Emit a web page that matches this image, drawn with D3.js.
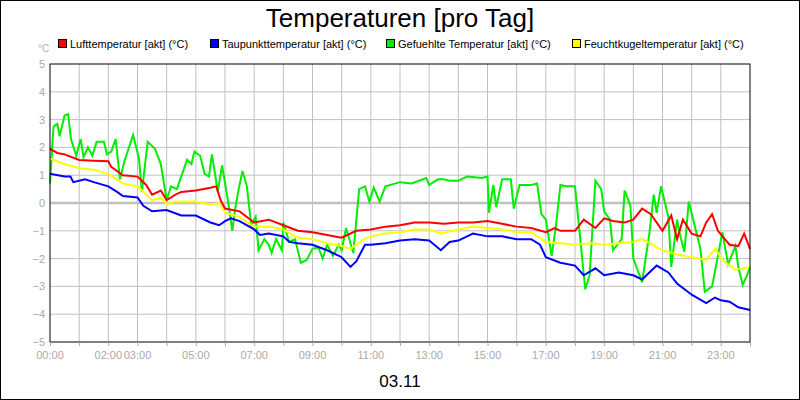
<!DOCTYPE html><html><head><meta charset="utf-8"><script src="https://cdn.jsdelivr.net/npm/d3@7"></script>
<style>body{margin:0;background:#fff}svg{display:block;font-family:"Liberation Sans",Arial,sans-serif}</style></head><body><svg id="c" width="800" height="400"></svg><script>
const seriesNames=["Lufttemperatur [akt] (°C)","Taupunkttemperatur [akt] (°C)","Gefuehlte Temperatur [akt] (°C)","Feuchtkugeltemperatur [akt] (°C)"];
const seriesColors=["#ff0000","#0000ff","#00ee00","#ffff00"];
const xTickLabels=[[0,"00:00"],[2,"02:00"],[3,"03:00"],[5,"05:00"],[7,"07:00"],[9,"09:00"],[11,"11:00"],[13,"13:00"],[15,"15:00"],[17,"17:00"],[19,"19:00"],[21,"21:00"],[23,"23:00"]];
const yTicks=[-5,-4,-3,-2,-1,0,1,2,3,4,5];
const luft=[[0,1.95],[0.25,1.8],[0.5,1.75],[1,1.55],[1.5,1.52],[2,1.5],[2.1,1.3],[2.5,1.0],[3,0.95],[3.3,0.65],[3.5,0.3],[3.8,0.45],[4,0.1],[4.3,0.3],[4.5,0.4],[5,0.45],[5.5,0.55],[5.7,0.6],[5.85,0.1],[6,-0.2],[6.5,-0.3],[7,-0.7],[7.5,-0.6],[8,-0.8],[8.5,-1.0],[9,-1.05],[9.5,-1.15],[10,-1.25],[10.5,-1.0],[11,-0.95],[11.5,-0.85],[12,-0.8],[12.5,-0.7],[13,-0.7],[13.5,-0.75],[14,-0.7],[14.5,-0.7],[15,-0.65],[15.5,-0.75],[16,-0.85],[16.5,-0.9],[17,-1.05],[17.3,-0.9],[17.5,-1.0],[18,-1.0],[18.3,-0.6],[18.7,-0.9],[19,-0.55],[19.3,-0.65],[19.7,-0.7],[20,-0.6],[20.3,-0.2],[20.6,-0.4],[21,-1.0],[21.3,-0.45],[21.5,-1.3],[21.7,-0.6],[22,-1.1],[22.3,-1.2],[22.5,-0.7],[22.7,-0.4],[22.9,-1.0],[23.3,-1.5],[23.6,-1.55],[23.8,-1.1],[24,-1.65]];
const tau=[[0,1.05],[0.5,0.95],[0.7,0.95],[0.8,0.75],[1.2,0.85],[1.5,0.75],[2,0.6],[2.3,0.4],[2.5,0.25],[3,0.2],[3.2,-0.1],[3.5,-0.3],[4,-0.25],[4.5,-0.45],[5,-0.45],[5.5,-0.7],[5.8,-0.8],[6,-0.65],[6.2,-0.55],[6.5,-0.65],[7,-0.95],[7.2,-1.15],[7.5,-1.1],[8,-1.2],[8.2,-1.4],[8.5,-1.45],[9,-1.5],[9.5,-1.7],[10,-1.95],[10.3,-2.3],[10.5,-2.1],[10.8,-1.5],[11,-1.5],[11.5,-1.45],[12,-1.35],[12.5,-1.3],[13,-1.35],[13.4,-1.7],[13.7,-1.4],[14,-1.35],[14.5,-1.1],[15,-1.2],[15.5,-1.2],[16,-1.3],[16.5,-1.3],[16.8,-1.5],[17,-1.95],[17.5,-2.15],[18,-2.25],[18.3,-2.6],[18.7,-2.35],[19,-2.6],[19.5,-2.5],[20,-2.6],[20.3,-2.75],[20.8,-2.25],[21.2,-2.5],[21.5,-2.9],[22,-3.3],[22.5,-3.6],[22.8,-3.4],[23,-3.5],[23.3,-3.55],[23.6,-3.75],[24,-3.85]];
const gefuehlt=[[0,0.7],[0.12,2.75],[0.25,2.85],[0.33,2.4],[0.5,3.15],[0.62,3.2],[0.72,2.3],[0.9,1.7],[1.05,2.3],[1.15,1.65],[1.3,2.0],[1.45,1.7],[1.6,2.2],[1.85,2.2],[1.95,1.75],[2.1,1.85],[2.25,2.3],[2.4,0.85],[2.55,1.5],[2.85,2.45],[3.05,1.6],[3.15,0.4],[3.35,2.2],[3.6,1.95],[3.8,1.4],[4.0,0.1],[4.15,0.6],[4.35,0.5],[4.7,1.55],[4.85,1.4],[4.95,1.85],[5.15,1.7],[5.3,1.05],[5.45,0.95],[5.55,1.75],[5.65,1.1],[5.75,0.4],[5.9,1.35],[6.1,0.1],[6.25,-1.0],[6.35,-0.2],[6.45,0.4],[6.6,1.15],[6.75,0.6],[6.9,-0.8],[7.05,-0.5],[7.15,-1.7],[7.35,-1.3],[7.5,-1.5],[7.6,-1.8],[7.75,-1.3],[7.95,-1.7],[8.0,-0.7],[8.2,-1.4],[8.4,-1.3],[8.6,-2.15],[8.8,-2.05],[9.0,-1.65],[9.2,-1.6],[9.35,-2.0],[9.5,-1.5],[9.7,-1.9],[9.9,-1.5],[10.0,-1.7],[10.15,-0.9],[10.4,-1.8],[10.6,0.5],[10.8,0.6],[10.95,0.05],[11.1,0.55],[11.3,0.05],[11.5,0.6],[12,0.75],[12.4,0.7],[12.9,0.9],[13.0,0.65],[13.3,0.85],[13.5,0.85],[13.7,0.8],[14.0,0.8],[14.3,0.95],[14.8,0.9],[15.0,0.95],[15.05,-0.35],[15.2,0.65],[15.3,-0.15],[15.5,0.85],[15.8,0.85],[15.9,-0.2],[16.1,0.65],[16.5,0.65],[16.7,0.7],[16.85,-0.4],[17.0,-0.6],[17.2,-1.9],[17.35,-0.8],[17.5,0.65],[17.7,0.6],[18.0,0.6],[18.2,-1.5],[18.35,-3.1],[18.5,-2.6],[18.7,0.8],[18.9,0.5],[19.0,-0.3],[19.2,-0.6],[19.3,-1.7],[19.6,-1.3],[19.7,0.45],[19.9,-0.1],[20.0,-2.0],[20.3,-2.85],[20.55,-1.1],[20.7,0.3],[20.8,-0.35],[20.95,0.6],[21.2,-0.5],[21.3,-2.3],[21.5,-0.6],[21.6,-1.15],[21.75,-1.75],[21.9,0.05],[22.1,-0.8],[22.3,-1.65],[22.45,-3.2],[22.7,-3.0],[22.9,-1.9],[23.05,-1.05],[23.25,-2.2],[23.5,-1.55],[23.6,-2.3],[23.75,-2.95],[23.9,-2.6],[24,-2.3]];
const feucht=[[0,1.6],[0.5,1.4],[1,1.25],[1.5,1.2],[2,1.05],[2.5,0.7],[3,0.6],[3.5,0.1],[3.8,0.2],[4,-0.05],[4.3,0.05],[5,0.05],[5.5,-0.05],[5.8,0],[6,-0.35],[6.5,-0.5],[7,-0.85],[7.5,-0.85],[8,-0.95],[8.5,-1.25],[9,-1.3],[9.5,-1.45],[10,-1.55],[10.3,-1.65],[10.7,-1.35],[11,-1.2],[11.5,-1.1],[12,-1.05],[12.5,-0.95],[13,-0.95],[13.4,-1.1],[14,-0.95],[14.5,-0.85],[15,-0.9],[15.5,-0.95],[16,-1.05],[16.5,-1.05],[17,-1.4],[17.5,-1.45],[18,-1.5],[18.5,-1.45],[19,-1.5],[19.5,-1.45],[20,-1.4],[20.3,-1.3],[21,-1.7],[21.5,-1.85],[22,-1.95],[22.5,-2.05],[22.8,-1.65],[23.1,-2.1],[23.5,-2.4],[24,-2.3]];
const drawOrder=[[gefuehlt,2],[feucht,3],[tau,1],[luft,0]];

const svg=d3.select("#c");
svg.append("rect").attr("x",0.5).attr("y",0.5).attr("width",799).attr("height",399).attr("fill","#fff").attr("stroke","#000");
const L=50,R=750,T=64,B=342;
const x=d3.scaleLinear().domain([0,24]).range([L,R]);
const y=d3.scaleLinear().domain([-5,5]).range([B,T]);
const g=svg.append("g");
g.selectAll(".vg").data(d3.range(1,24)).join("line").attr("x1",d=>x(d)).attr("x2",d=>x(d)).attr("y1",T).attr("y2",B).attr("stroke","#c0c0c0");
g.selectAll(".hg").data(yTicks.filter(d=>d>-5&&d<5)).join("line").attr("x1",L).attr("x2",R).attr("y1",d=>y(d)).attr("y2",d=>y(d)).attr("stroke","#c0c0c0").attr("stroke-width",d=>d===0?2.5:1);
const line=d3.line().x(d=>x(d[0])).y(d=>y(d[1]));
drawOrder.forEach(([s,i])=>g.append("path").datum(s).attr("d",line).attr("fill","none").attr("stroke",seriesColors[i]).attr("stroke-width",2));
g.append("rect").attr("x",L).attr("y",T).attr("width",R-L).attr("height",B-T).attr("fill","none").attr("stroke","#000");
// y axis
const ya=svg.append("g").attr("transform",`translate(${L},0)`).call(d3.axisLeft(y).tickValues(yTicks).tickSize(0).tickPadding(5));
ya.select(".domain").remove();ya.selectAll("text").attr("fill","#aaa").attr("font-size",11);
const xa=svg.append("g").attr("transform",`translate(0,${B})`).call(d3.axisBottom(x).tickValues(d3.range(0,25)).tickSize(4).tickFormat(""));
xa.select(".domain").remove();xa.selectAll("line").attr("stroke","#aaa");
svg.selectAll(".xl").data(xTickLabels).join("text").attr("x",d=>x(d[0])).attr("y",B+17).attr("text-anchor","middle").attr("font-size",11).attr("fill","#aaa").text(d=>d[1]);
svg.append("text").attr("x",38).attr("y",52).attr("font-size",10).attr("fill","#aaa").text("°C");
svg.append("text").attr("x",400).attr("y",27).attr("text-anchor","middle").attr("font-size",26).text("Temperaturen [pro Tag]");
svg.append("text").attr("x",400).attr("y",387).attr("text-anchor","middle").attr("font-size",17).text("03.11");
const legX=[58,210,386,572];
seriesNames.forEach((n,i)=>{
 svg.append("rect").attr("x",legX[i]+0.5).attr("y",39.5).attr("width",8).attr("height",8).attr("fill",seriesColors[i]).attr("stroke","#000");
 svg.append("text").attr("x",legX[i]+12).attr("y",48).attr("font-size",11).text(n);
});
</script></body></html>
